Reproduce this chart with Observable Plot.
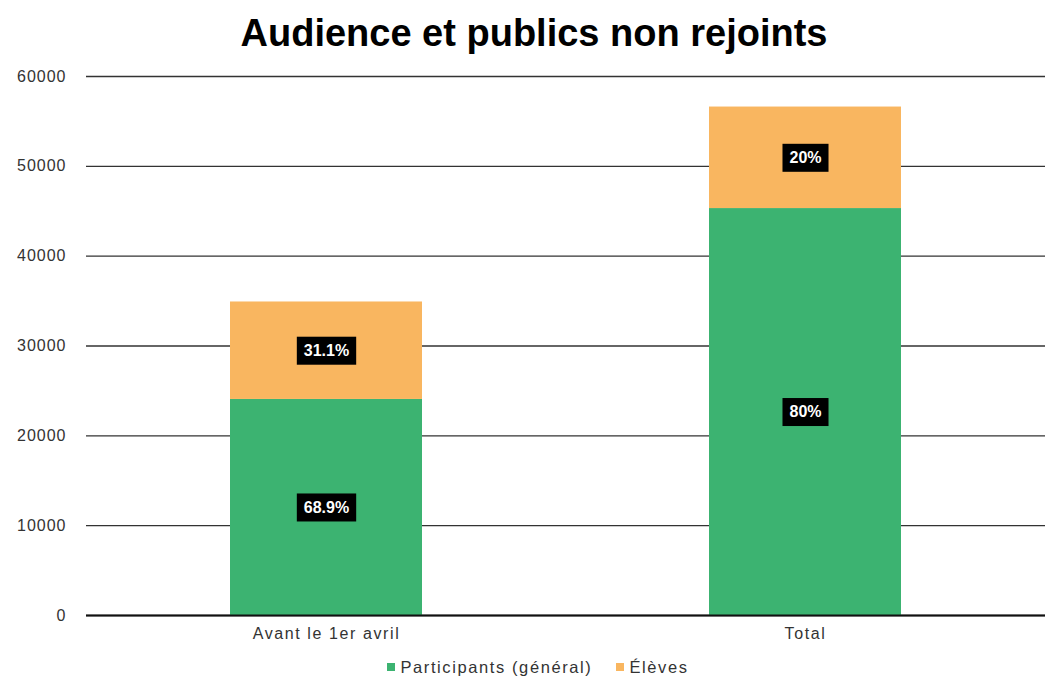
<!DOCTYPE html>
<html>
<head>
<meta charset="utf-8">
<script src="https://cdn.jsdelivr.net/npm/d3@7"></script>
<script src="https://cdn.jsdelivr.net/npm/@observablehq/plot@0.6"></script>
<style>
  html, body { margin: 0; padding: 0; background: #fff; }
  #wrap { position: relative; width: 1046px; height: 692px; font-family: "Liberation Sans", Arial, sans-serif; }
  #title { position: absolute; left: 22px; right: 0; top: 14px; line-height: 38px; font-size: 38px; font-weight: bold; text-align: center; color: #000; }
  #chart { position: absolute; left: 0; top: 60px; }
  #legend { position: absolute; left: 30px; right: 0; top: 657px; height: 20px; display: flex; justify-content: center; align-items: center; font-size: 16.5px; letter-spacing: 1.6px; color: #333; }
  .item { display: flex; align-items: center; margin: 0 12px; }
  .sw { width: 8px; height: 8px; margin-right: 5px; }
  #chart g[aria-label="x-axis tick label"] text { letter-spacing: 1.6px; }
  #chart g[aria-label="y-axis tick label"] text { letter-spacing: 1px; }
</style>
</head>
<body>
<div id="wrap">
  <div id="title">Audience et publics non rejoints</div>
  <div id="chart"></div>
  <div id="legend"></div>
</div>
<script>
const categories = ["Avant le 1er avril", "Total"];
const seriesNames = ["Participants (général)", "Élèves"];
const participants = [24050, 45300];
const eleves = [10850, 11300];
const colors = ["#3cb371", "#f9b660"];
const yTicks = [0, 10000, 20000, 30000, 40000, 50000, 60000];

const pctFormat = d3.format(".3~r");
const data = categories.flatMap((c, i) => {
  const total = participants[i] + eleves[i];
  return [
    {category: c, series: seriesNames[0], value: participants[i], label: pctFormat(participants[i] / total * 100) + "%"},
    {category: c, series: seriesNames[1], value: eleves[i], label: pctFormat(eleves[i] / total * 100) + "%"}
  ];
});

const labelSize = 16;
const measureCtx = document.createElement("canvas").getContext("2d");
measureCtx.font = "bold " + labelSize + "px 'Liberation Sans', Arial, sans-serif";

function boxedLabels(index, scales, values, dimensions, context, next) {
  const g = next(index, scales, values, dimensions, context);
  const texts = g.querySelectorAll("text");
  Array.from(index).forEach((i, k) => {
    const t = texts[k];
    if (!t) return;
    const w = Math.max(measureCtx.measureText(data[i].label).width, data[i].label.length * 8.6) + 14;
    const h = 28;
    const rect = document.createElementNS("http://www.w3.org/2000/svg", "rect");
    rect.setAttribute("x", values.x[i] - w / 2);
    rect.setAttribute("y", values.y[i] - h / 2);
    rect.setAttribute("width", w);
    rect.setAttribute("height", h);
    rect.setAttribute("fill", "#000");
    rect.setAttribute("stroke", "none");
    g.insertBefore(rect, t);
  });
  return g;
}

const chart = Plot.plot({
  width: 1046,
  height: 595,
  marginTop: 16,
  marginBottom: 40,
  marginLeft: 86,
  marginRight: 1,
  style: {fontFamily: "'Liberation Sans', Arial, sans-serif", fontSize: "16px", color: "#333", background: "#fff"},
  x: {domain: categories, paddingInner: 0.6, paddingOuter: 0.3, label: null},
  y: {domain: [0, 60000], label: null},
  color: {domain: seriesNames, range: colors},
  marks: [
    Plot.gridY(yTicks, {stroke: "#333", strokeOpacity: 1, strokeWidth: 1.4}),
    Plot.barY(data, {x: "category", y: "value", fill: "series"}),
    Plot.ruleY([0], {stroke: "#111", strokeWidth: 2}),
    Plot.axisY(yTicks, {tickSize: 0, tickPadding: 20, tickFormat: d3.format("d"), label: null, fill: "#333"}),
    Plot.axisX({tickSize: 0, tickPadding: 12, label: null, fill: "#333"}),
    Plot.text(data, Plot.stackY({
      x: "category", y: "value", text: "label",
      fill: "#fff", fontWeight: "bold", fontSize: labelSize,
      render: boxedLabels
    }))
  ]
});
document.getElementById("chart").appendChild(chart);

const legend = document.getElementById("legend");
seriesNames.forEach((name, i) => {
  const item = document.createElement("div");
  item.className = "item";
  const sw = document.createElement("div");
  sw.className = "sw";
  sw.style.background = colors[i];
  const txt = document.createElement("span");
  txt.textContent = name;
  item.appendChild(sw);
  item.appendChild(txt);
  legend.appendChild(item);
});
</script>
</body>
</html>
